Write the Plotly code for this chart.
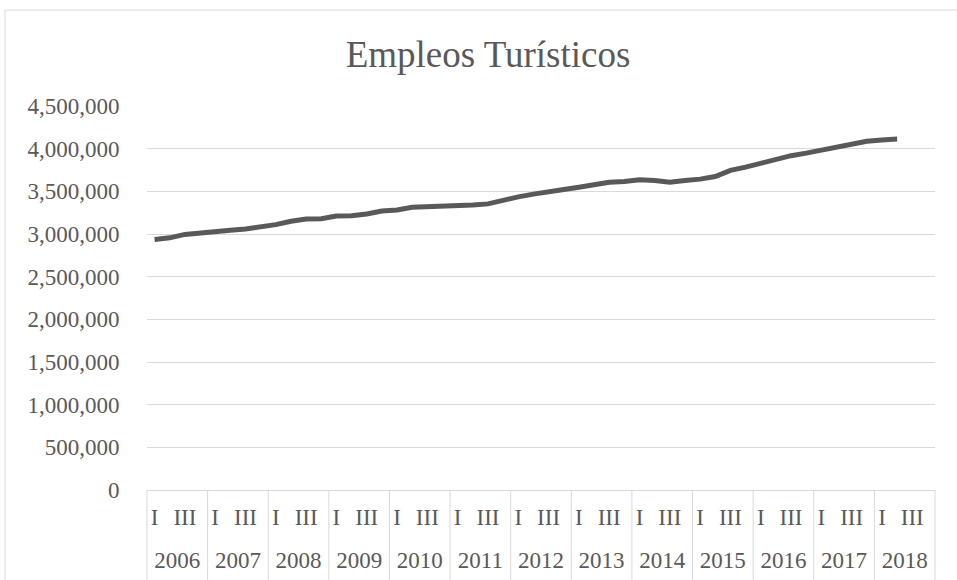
import plotly.graph_objects as go

# ---- data ----
years = [2006, 2007, 2008, 2009, 2010, 2011, 2012, 2013, 2014, 2015, 2016, 2017, 2018]
quarters = ["I", "II", "III", "IV"]
empleos = [
    2935000, 2955000, 2995000, 3015000,   # 2006
    3031000, 3043000, 3059000, 3078000,   # 2007
    3110000, 3149000, 3176000, 3178000,   # 2008
    3210000, 3215000, 3235000, 3270000,   # 2009
    3282000, 3313000, 3318000, 3318000,   # 2010
    3329000, 3341000, 3353000, 3400000,   # 2011
    3435000, 3467000, 3501000, 3521000,   # 2012
    3548000, 3576000, 3607000, 3615000,   # 2013
    3635000, 3627000, 3607000, 3627000,   # 2014
    3643000, 3674000, 3745000, 3784000,   # 2015
    3831000, 3878000, 3918000, 3948000,   # 2016
    3980000, 4019000, 4054000, 4086000,   # 2017
    4102000, 4113000,                     # 2018
]
y_ticks = [0, 500000, 1000000, 1500000, 2000000, 2500000, 3000000, 3500000, 4000000, 4500000]

FONT = "Liberation Serif"
TXT = "#595959"
GRID = "#d9d9d9"

n_cat = len(years) * len(quarters)
x_idx = list(range(len(empleos)))

# quarter labels shown: I and III of every year
q_vals = [i for i in range(n_cat) if i % 4 in (0, 2)]
q_text = [quarters[i % 4] for i in q_vals]
# year labels centered in each group
y_vals = [4 * i + 1.5 for i in range(len(years))]
y_text = [str(y) for y in years]

fig = go.Figure()
fig.add_trace(go.Scatter(
    x=x_idx, y=empleos, mode="lines",
    line=dict(color="#595959", width=5),
    showlegend=False, hoverinfo="y"))
fig.add_trace(go.Scatter(
    x=[y_vals[0]], y=[None], mode="lines", xaxis="x2",
    showlegend=False, hoverinfo="skip"))

# chart border
fig.add_shape(type="rect", xref="paper", yref="paper",
              x0=(5 - 147) / 788, x1=2, y0=-1, y1=(490 - 10) / 384,
              line=dict(color=GRID, width=1), layer="below")
# year dividers
for i in range(len(years) + 1):
    fig.add_shape(type="line", xref="paper", yref="paper",
                  x0=4 * i / n_cat, x1=4 * i / n_cat, y0=0, y1=-0.3,
                  line=dict(color=GRID, width=1))

fig.update_layout(
    width=957, height=580, autosize=False,
    margin=dict(l=147, r=22, t=106, b=90),
    paper_bgcolor="white", plot_bgcolor="white",
    font=dict(family=FONT, color=TXT, size=23),
    title=dict(text="Empleos Turísticos", font=dict(family=FONT, size=37, color=TXT),
               x=488 / 957, xref="container", xanchor="center",
               y=1 - 54 / 580, yref="container", yanchor="middle"),
    xaxis=dict(range=[-0.5, n_cat - 0.5], tickmode="array", tickvals=q_vals, ticktext=q_text,
               showgrid=False, zeroline=False, showline=True, linecolor=GRID, linewidth=1,
               ticks="outside", ticklen=6, tickcolor="rgba(0,0,0,0)", automargin=False,
               tickfont=dict(family=FONT, size=23, color=TXT), tickangle=0),
    xaxis2=dict(range=[-0.5, n_cat - 0.5], overlaying="x", side="bottom", anchor="y",
                tickmode="array", tickvals=y_vals, ticktext=y_text,
                showgrid=False, zeroline=False, showline=False, automargin=False,
                ticks="outside", ticklen=49, tickcolor="rgba(0,0,0,0)",
                tickfont=dict(family=FONT, size=23, color=TXT), tickangle=0),
    yaxis=dict(range=[0, 4500000], tickmode="array", tickvals=y_ticks,
               tickformat=",", showgrid=True, gridcolor=GRID, gridwidth=1,
               zeroline=False, showline=False, automargin=False,
               ticks="outside", ticklen=22, tickcolor="rgba(0,0,0,0)",
               tickfont=dict(family=FONT, size=23, color=TXT)),
)

fig.write_html("out.html")
